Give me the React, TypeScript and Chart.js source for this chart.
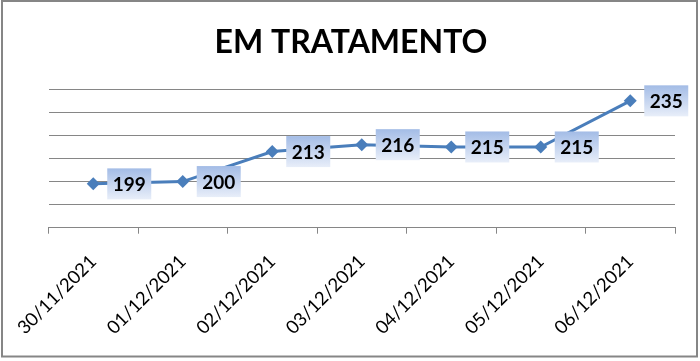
import React, { useEffect, useRef } from "react";
import { Chart, registerables } from "chart.js";

Chart.register(...registerables);

const categories = [
  "30/11/2021",
  "01/12/2021",
  "02/12/2021",
  "03/12/2021",
  "04/12/2021",
  "05/12/2021",
  "06/12/2021",
];
const values = [199, 200, 213, 216, 215, 215, 235];
const yMin = 180;
const yMax = 240;
const yStep = 10;
const titleText = "EM TRATAMENTO";

const GRID = "#868686";
const LINE = "#4a7ebb";

const framePlugin = {
  id: "frame",
  beforeDraw(chart: any) {
    const ctx = chart.ctx;
    ctx.save();
    ctx.fillStyle = "#ffffff";
    ctx.fillRect(0, 0, chart.width, chart.height);
    ctx.fillStyle = "#000000";
    ctx.font = "bold 32px Lato";
    ctx.textAlign = "center";
    ctx.textBaseline = "alphabetic";
    ctx.fillText(titleText, 351, 53.3);
    ctx.restore();
  },
  afterDraw(chart: any) {
    const ctx = chart.ctx;
    ctx.save();
    ctx.strokeStyle = GRID;
    ctx.lineWidth = 2;
    ctx.strokeRect(2, 1, 695, 355.5);
    ctx.restore();
  },
};

const boxLabelPlugin = {
  id: "boxLabels",
  afterDatasetsDraw(chart: any) {
    const ctx = chart.ctx;
    const meta = chart.getDatasetMeta(0);
    const data = chart.data.datasets[0].data;
    ctx.save();
    meta.data.forEach((pt: any, i: number) => {
      const w = 44;
      const h = 31;
      const x = pt.x + 14;
      const y = pt.y - h / 2;
      const g = ctx.createLinearGradient(0, y, 0, y + h);
      g.addColorStop(0, "#a3bce6");
      g.addColorStop(1, "#e8eef9");
      ctx.fillStyle = g;
      ctx.fillRect(x, y, w, h);
      ctx.fillStyle = "#000000";
      ctx.font = "bold 19px Lato";
      ctx.textAlign = "center";
      ctx.textBaseline = "middle";
      ctx.fillText(String(data[i]), x + w / 2, y + h / 2 + 1);
    });
    ctx.restore();
  },
};

export default function App() {
  const ref = useRef<HTMLCanvasElement | null>(null);

  useEffect(() => {
    if (!ref.current) return;
    const chart = new Chart(ref.current, {
      type: "line",
      data: {
        labels: categories,
        datasets: [
          {
            data: values,
            borderColor: LINE,
            backgroundColor: LINE,
            borderWidth: 3,
            pointStyle: "rectRot",
            pointRadius: 6.5,
            pointBackgroundColor: LINE,
            pointBorderWidth: 0,
            tension: 0,
          },
        ],
      },
      options: {
        responsive: false,
        animation: false,
        devicePixelRatio: 1,
        layout: { padding: { left: 48.5, right: 25, top: 89.3, bottom: 0 } },
        plugins: {
          legend: { display: false },
          tooltip: { enabled: false },
          title: { display: false },
        },
        scales: {
          x: {
            offset: true,
            grid: {
              offset: true,
              drawOnChartArea: false,
              drawTicks: true,
              tickLength: 6,
              color: GRID,
            },
            border: { display: true, color: GRID, width: 1 },
            ticks: {
              autoSkip: false,
              maxRotation: 45,
              minRotation: 45,
              padding: 17,
              color: "#000000",
              font: { family: "Lato", size: 18.5 },
            },
            afterFit: (scale: any) => {
              scale.height = 361 - 227.7;
            },
          },
          y: {
            min: yMin,
            max: yMax,
            ticks: { stepSize: yStep, display: false },
            grid: { color: GRID, drawTicks: false },
            border: { display: false },
            afterFit: (scale: any) => {
              scale.width = 0;
            },
          },
        },
      },
      plugins: [framePlugin, boxLabelPlugin],
    });
    return () => chart.destroy();
  }, []);

  return (
    <div style={{ position: "fixed", left: 0, top: 0, width: 700, height: 361 }}>
      <canvas ref={ref} width={700} height={361} style={{ display: "block" }} />
    </div>
  );
}
